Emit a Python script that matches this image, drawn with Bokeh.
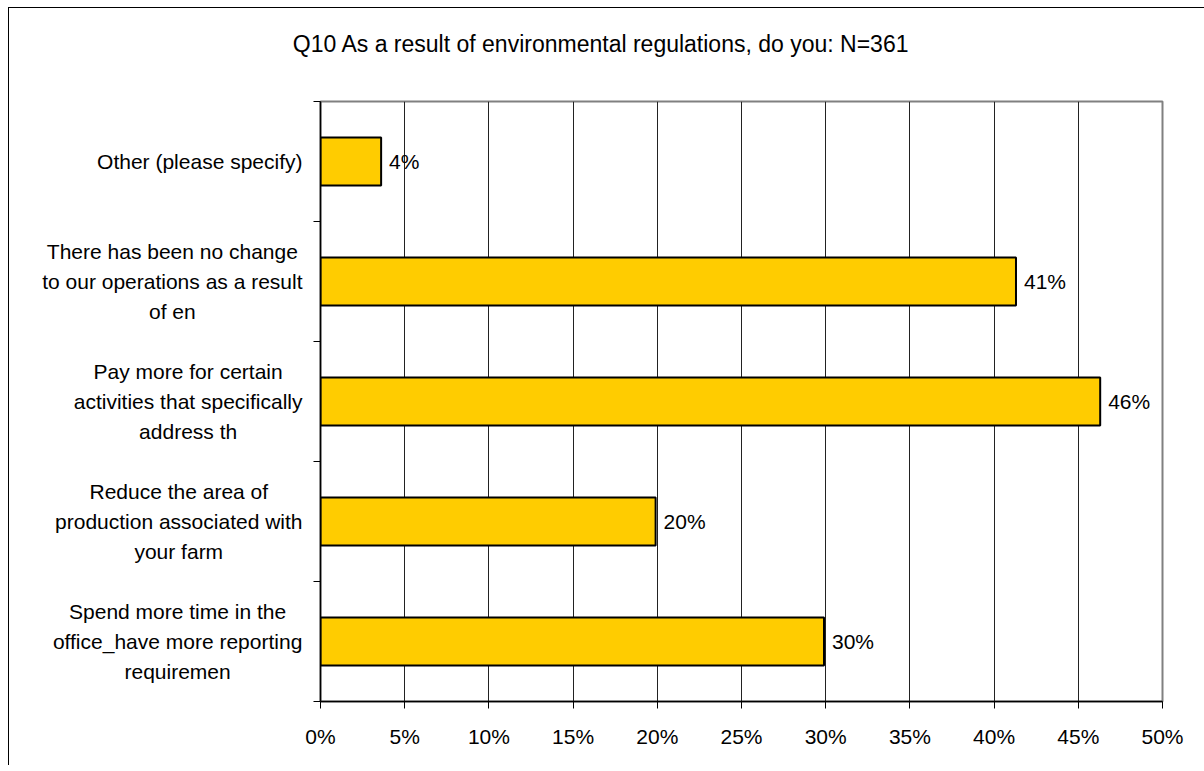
from bokeh.plotting import figure
from bokeh.models import Range1d, FixedTicker, ColumnDataSource
from bokeh.layouts import row, column
from bokeh.core.properties import value
from bokeh.embed import file_html
from bokeh.resources import INLINE

# Survey answers, listed bottom to top
categories = [
    "Spend more time in the\noffice_have more reporting\nrequiremen",
    "Reduce the area of\nproduction associated with\nyour farm",
    "Pay more for certain\nactivities that specifically\naddress th",
    "There has been no change\nto our operations as a result\nof en",
    "Other (please specify)",
]
shares = [29.9, 19.9, 46.3, 41.3, 3.6]  # percent of respondents
x_ticks = [0, 5, 10, 15, 20, 25, 30, 35, 40, 45, 50]
title_text = "Q10 As a result of environmental regulations, do you:  N=361"

FONT = "Liberation Sans"
FS = 21
TITLE_FS = 23

# Arial / Liberation Sans advance widths (per 1000 em), used to centre text blocks
_W = {" ": 278, "(": 333, ")": 333, "_": 556, "%": 889, ",": 278, ":": 278,
      "=": 584, "a": 556, "b": 556, "c": 500, "d": 556, "e": 556, "f": 278,
      "g": 556, "h": 556, "i": 222, "j": 222, "k": 500, "l": 222, "m": 833,
      "n": 556, "o": 556, "p": 556, "q": 556, "r": 333, "s": 500, "t": 278,
      "u": 556, "v": 500, "w": 722, "x": 500, "y": 500, "z": 500,
      "A": 667, "N": 722, "O": 778, "P": 667, "Q": 778, "R": 722, "S": 667,
      "T": 611}


def text_width(s, size):
    return sum(_W.get(ch, 556) for ch in s) * size / 1000.0


# page geometry (px); kept a little short of the window so no scrollbar shows
W, H = 1204, 765
BORDER_X, BORDER_Y = 8, 7       # left and top edges of the chart border
FRAME_L, FRAME_R = 320, 1162
FRAME_T, FRAME_B = 101, 701
AXIS_PAD = 16                   # room for the category ticks and the "0%" label
LABEL_RIGHT = 302               # right side of the category label blocks
TITLE_CX, TITLE_CY = 604, 43
HEAD_H = 88                     # height of the title strip

lab_w = FRAME_L - AXIS_PAD
main_w = W - lab_w
body_h = H - HEAD_H
top_pad = FRAME_T - HEAD_H
n = len(categories)

y_range = Range1d(0, n)
ypos = [i + 0.5 for i in range(n)]

# ---- title strip -------------------------------------------------------------
head = figure(width=W, height=HEAD_H, output_backend="svg",
              toolbar_location=None, x_axis_type=None, y_axis_type=None,
              x_range=Range1d(0, W), y_range=Range1d(0, HEAD_H), min_border=0,
              background_fill_alpha=0, border_fill_alpha=0)
head.grid.visible = False
head.outline_line_color = None
head.text(x=[TITLE_CX], y=[HEAD_H - TITLE_CY],
          text=[title_text], text_align="center", text_baseline="middle",
          text_font=value(FONT), text_font_size=f"{TITLE_FS}px",
          text_color="black")

# ---- bar chart -------------------------------------------------------------
p = figure(width=main_w, height=body_h, output_backend="svg",
           toolbar_location=None, x_range=Range1d(0, 50), y_range=y_range,
           min_border_left=AXIS_PAD, min_border_right=W - FRAME_R,
           min_border_top=top_pad, min_border_bottom=H - FRAME_B,
           background_fill_color="white", border_fill_alpha=0)

p.outline_line_color = "#808080"
p.outline_line_width = 2

src = ColumnDataSource(dict(y=ypos, share=shares,
                            label=[f"{round(v)}%" for v in shares]))

p.hbar(y="y", right="share", left=0, height=0.4, source=src,
       fill_color="#FFCC00", line_color="black", line_width=2)

p.text(x="share", y="y", text="label", source=src, x_offset=8,
       text_baseline="middle", text_align="left",
       text_font=value(FONT), text_font_size=f"{FS}px", text_color="black")

xa = p.xaxis[0]
xa.ticker = FixedTicker(ticks=x_ticks)
xa.major_label_overrides = {t: f"{t}%" for t in x_ticks}
xa.major_tick_out = 7
xa.major_tick_in = 0
xa.minor_tick_line_color = None
xa.major_label_standoff = 16
xa.axis_line_color = "black"
xa.axis_line_width = 1.5
xa.major_tick_line_color = "black"
xa.major_label_text_font = FONT
xa.major_label_text_font_size = f"{FS}px"
xa.major_label_text_color = "black"

ya = p.yaxis[0]
ya.ticker = FixedTicker(ticks=list(range(n + 1)))
ya.major_label_overrides = {i: "" for i in range(n + 1)}
ya.major_label_text_font_size = "0px"
ya.major_label_standoff = 0
ya.major_tick_out = 7
ya.major_tick_in = 0
ya.minor_tick_line_color = None
ya.axis_line_color = "black"
ya.axis_line_width = 1.5
ya.major_tick_line_color = "black"

p.xgrid.ticker = FixedTicker(ticks=x_ticks)
p.xgrid.grid_line_color = "#222222"
p.xgrid.grid_line_width = 1
p.ygrid.grid_line_color = None

# ---- category labels (frame lines up with the bar chart's frame) -------------
lab = figure(width=lab_w, height=body_h, output_backend="svg",
             toolbar_location=None, x_axis_type=None, y_axis_type=None,
             x_range=Range1d(0, lab_w), y_range=y_range,
             min_border_left=0, min_border_right=0,
             min_border_top=top_pad, min_border_bottom=H - FRAME_B,
             background_fill_alpha=0, border_fill_alpha=0)
lab.grid.visible = False
lab.outline_line_color = None

blocks = [max(text_width(line, FS) for line in c.split("\n")) for c in categories]
lab_src = ColumnDataSource(dict(y=ypos, text=categories,
                                x=[LABEL_RIGHT - b / 2 for b in blocks]))
lab.text(x="x", y="y", text="text", source=lab_src,
         text_align="center", text_baseline="middle",
         text_font=value(FONT), text_font_size=f"{FS}px",
         text_line_height=1.29, text_color="black")

# chart border along the left and top edges, painted on the page background
border_css = (
    f"linear-gradient(#000, #000) {BORDER_X}px {BORDER_Y}px / 1px 100% no-repeat, "
    f"linear-gradient(#000, #000) {BORDER_X}px {BORDER_Y}px / 100% 1px no-repeat, "
    "#fff"
)
layout = column(head, row(lab, p), styles={"background": border_css})

open("out.html", "w").write(file_html(layout, INLINE))
